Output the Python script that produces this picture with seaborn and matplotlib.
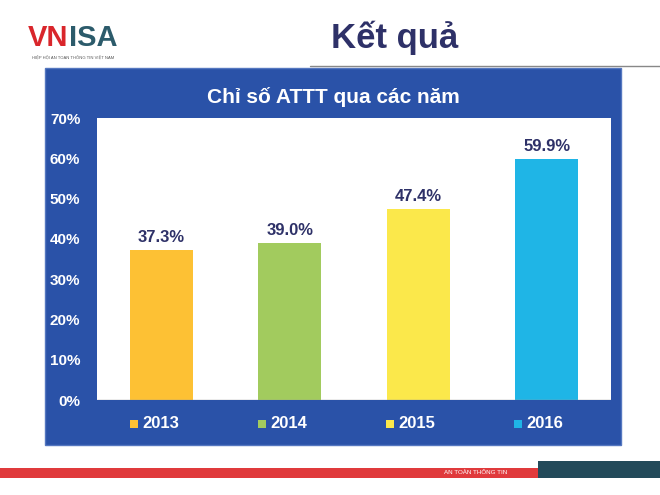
import matplotlib
matplotlib.use("Agg")
import matplotlib.pyplot as plt
import seaborn as sns
import pandas as pd
from matplotlib.patches import Rectangle

years = ["2013", "2014", "2015", "2016"]
values = [37.3, 39.0, 47.4, 59.9]
colors = ["#FDC134", "#A2CB5E", "#FBE84B", "#1FB5E6"]
yticks = [0, 10, 20, 30, 40, 50, 60, 70]

sns.set_theme(style="white")
plt.rcParams['font.family'] = ['Liberation Sans', 'DejaVu Sans']

W, H = 660, 495
fig = plt.figure(figsize=(6.6, 4.95), dpi=100)
fig.patch.set_facecolor("white")

def fx(x): return x / W
def fy(y): return 1 - y / H

# blue panel
fig.patches.append(Rectangle((fx(45), fy(445)), fx(621) - fx(45), fy(68) - fy(445),
                             transform=fig.transFigure, facecolor="#2A52A8", edgecolor="#5577c0", lw=1, zorder=-1))
# header
fig.text(fx(395), fy(38), "Kết quả", fontsize=25, fontweight="bold", color="#2E3168", ha="center", va="center")
fig.add_artist(plt.Line2D([fx(310), 1], [fy(66), fy(66)], color="#888888", lw=1, transform=fig.transFigure))
fig.text(fx(28), fy(38), "VN", fontsize=21, fontweight="bold", color="#D9262B", ha="left", va="center")
fig.text(fx(69), fy(38), "ISA", fontsize=21, fontweight="bold", color="#2C5B6B", ha="left", va="center")
fig.text(fx(32), fy(58), "HIỆP HỘI AN TOÀN THÔNG TIN VIỆT NAM", fontsize=3, color="#555555", ha="left", va="center")
# footer
fig.patches.append(Rectangle((0, fy(478)), fx(540), fy(468) - fy(478), transform=fig.transFigure,
                             facecolor="#E03A3C", edgecolor="none"))
fig.patches.append(Rectangle((fx(538), fy(478)), 1 - fx(538), fy(461) - fy(478), transform=fig.transFigure,
                             facecolor="#234A5A", edgecolor="none"))
fig.text(fx(476), fy(473), "AN TOÀN THÔNG TIN", fontsize=4.5, color="white", ha="center", va="center")

fig.text(fx(333), fy(97), "Chỉ số ATTT qua các năm", fontsize=15, fontweight="bold", color="white", ha="center", va="center")

ax = fig.add_axes([fx(97), fy(400), fx(611) - fx(97), fy(118) - fy(400)])
ax.set_zorder(5)
ax.set_facecolor("white")
df = pd.DataFrame({"year": years, "value": values})
sns.barplot(data=df, x="year", y="value", hue="year", palette=colors, width=0.49,
            legend=False, ax=ax, edgecolor="none", saturation=1)
ax.set_ylim(0, 70)
ax.set_yticks(yticks)
ax.set_yticklabels([f"{t}%" for t in yticks], color="white", fontsize=11, fontweight="bold")
ax.set_xticks([])
ax.set_xlabel(""); ax.set_ylabel("")
ax.tick_params(axis="y", length=0, pad=12)
for s in ax.spines.values():
    s.set_visible(False)
ax.axhline(0, color="#9a9a9a", lw=1)
for i, v in enumerate(values):
    ax.text(i, v + 1.2, f"{v:.1f}%", ha="center", va="bottom", fontsize=12, fontweight="bold", color="#2E3168")

for i, (yr, c) in enumerate(zip(years, colors)):
    x = 162 + 128 * i
    fig.patches.append(Rectangle((fx(x - 32), fy(428)), fx(8), fy(420) - fy(428), transform=fig.transFigure,
                                 facecolor=c, edgecolor="none"))
    fig.text(fx(x - 20), fy(423), yr, fontsize=12, fontweight="bold", color="white", ha="left", va="center")

fig.savefig("out.png", dpi=100)
